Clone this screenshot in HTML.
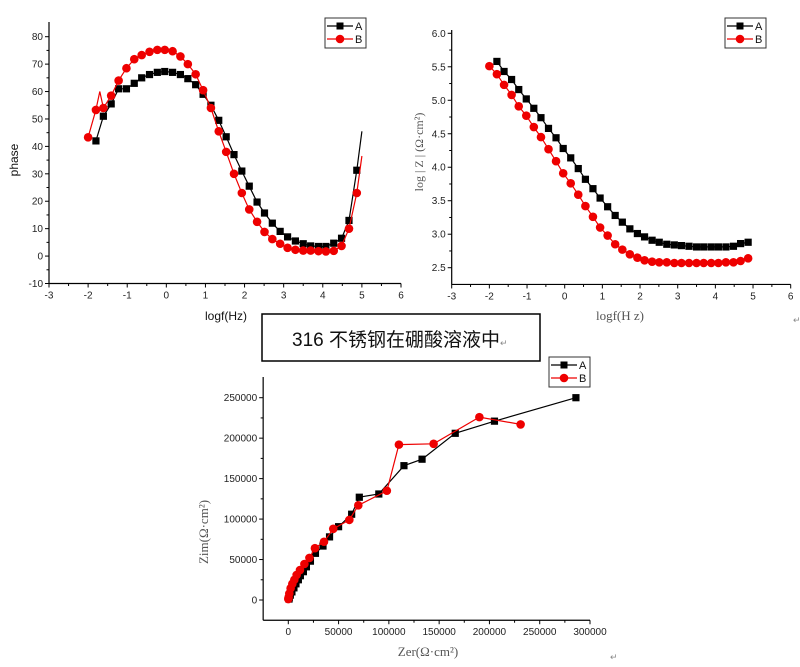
<!DOCTYPE html>
<html><head><meta charset="utf-8">
<style>
html,body{margin:0;padding:0;background:#fff;}
svg{display:block;font-family:"Liberation Sans",sans-serif;}
.tick{font-size:10px;fill:#222;}
</style></head>
<body>
<svg id="root" width="800" height="667" viewBox="0 0 800 667" xmlns="http://www.w3.org/2000/svg">
  <g>
    <rect x="262" y="314" width="278" height="47" fill="#fff" stroke="#000" stroke-width="1.5"/>
    <text x="292" y="346" font-size="19" font-family="'Liberation Sans','Noto Sans CJK SC',sans-serif" fill="#111">316 不锈钢在硼酸溶液中<tspan font-size="9" fill="#888">↵</tspan></text>
  </g>
  <text x="793" y="323" font-size="9" fill="#888">↵</text>
  <text x="610" y="660" font-size="9" fill="#888">↵</text>
</svg>
<script>
// ---------- Chart 1: phase ----------
const phaseXA = [-1.80,-1.61,-1.41,-1.22,-1.02,-0.82,-0.63,-0.43,-0.23,-0.04,0.16,0.36,0.55,0.75,0.94,1.14,1.34,1.53,1.73,1.93,2.12,2.32,2.51,2.71,2.91,3.10,3.30,3.50,3.69,3.89,4.08,4.28,4.48,4.67,4.87,5.00];
const phaseA = [42,51,55.5,61,61,63,65,66.2,67,67.3,67,66.2,64.7,62.5,59,55,49.5,43.5,37,31,25.5,19.7,15.7,12,9,7,5.5,4.5,3.7,3.5,3.5,4.7,6.5,13,31.3,45.5];
const phaseXB = [-2.00,-1.80,-1.70,-1.61,-1.41,-1.22,-1.02,-0.82,-0.63,-0.43,-0.23,-0.04,0.16,0.36,0.55,0.75,0.94,1.14,1.34,1.53,1.73,1.93,2.12,2.32,2.51,2.71,2.91,3.10,3.30,3.50,3.69,3.89,4.08,4.28,4.48,4.67,4.87,5.00];
const phaseB = [43.3,53.3,60,54,58.5,64,68.5,71.8,73.3,74.5,75.2,75.2,74.7,72.8,70,66.3,60.5,54,45.5,38,30,23,17,12.5,8.8,6.2,4.5,3,2.3,2,2,1.8,1.7,1.9,3.7,10,23,36.5];
const phaseNoMarkA = [35];
const phaseNoMarkB = [2,37];
const phaseXTicks = [-3,-2,-1,0,1,2,3,4,5,6];
const phaseYTicks = [-10,0,10,20,30,40,50,60,70,80];

// ---------- Chart 2: log|Z| ----------
const bodeXA = [-1.80,-1.61,-1.41,-1.22,-1.02,-0.82,-0.63,-0.43,-0.23,-0.04,0.16,0.36,0.55,0.75,0.94,1.14,1.34,1.53,1.73,1.93,2.12,2.32,2.51,2.71,2.91,3.10,3.30,3.50,3.69,3.89,4.08,4.28,4.48,4.67,4.87];
const bodeA = [5.58,5.43,5.31,5.16,5.02,4.88,4.74,4.58,4.44,4.28,4.14,3.98,3.82,3.68,3.54,3.41,3.28,3.18,3.08,3.01,2.96,2.91,2.88,2.85,2.84,2.83,2.82,2.81,2.81,2.81,2.81,2.81,2.82,2.86,2.88];
const bodeXB = [-2.00,-1.80,-1.61,-1.41,-1.22,-1.02,-0.82,-0.63,-0.43,-0.23,-0.04,0.16,0.36,0.55,0.75,0.94,1.14,1.34,1.53,1.73,1.93,2.12,2.32,2.51,2.71,2.91,3.10,3.30,3.50,3.69,3.89,4.08,4.28,4.48,4.67,4.87];
const bodeB = [5.51,5.39,5.23,5.08,4.91,4.77,4.60,4.45,4.27,4.09,3.91,3.76,3.59,3.42,3.26,3.10,2.98,2.85,2.77,2.70,2.65,2.61,2.59,2.58,2.58,2.57,2.57,2.57,2.57,2.57,2.57,2.57,2.58,2.58,2.60,2.64];
const bodeXTicks = [-3,-2,-1,0,1,2,3,4,5,6];
const bodeYTicks = [2.5,3.0,3.5,4.0,4.5,5.0,5.5,6.0];

// ---------- Chart 3: Nyquist ----------
const nyqZerA = [286000,205000,166000,133000,115000,90000,70600,63000,50000,41000,34500,27000,22000,18000,15000,12000,10000,7600,5600,3600,2000,1000,700];
const nyqZimA = [250000,221000,206000,174000,166000,131000,127000,106000,90600,78000,66700,57700,48000,41000,35000,30000,25000,20000,15000,10000,6000,3000,1200];
const nyqZerB = [231000,190000,144500,110000,98000,69600,60700,44700,35500,26500,21000,16000,11600,8300,6000,4000,2300,1000,300,0];
const nyqZimB = [217000,226000,193000,192000,135000,117000,99000,88000,72000,64000,52000,44500,37000,31000,25000,20000,14500,8000,3300,1200];
const nyqXTicks = [0,50000,100000,150000,200000,250000,300000];
const nyqYTicks = [0,50000,100000,150000,200000,250000];

const NS = "http://www.w3.org/2000/svg";
const root = document.getElementById('root');
function el(tag, attrs, parent){ const e=document.createElementNS(NS,tag); for(const k in attrs) e.setAttribute(k,attrs[k]); (parent||root).appendChild(e); return e; }

function chart(cfg){
  const g = el('g',{});
  
  
  const sx = v => cfg.x0 + (v - cfg.xmin)/(cfg.xmax-cfg.xmin)*(cfg.x1-cfg.x0);
  const sy = v => cfg.y0 - (v - cfg.ymin)/(cfg.ymax-cfg.ymin)*(cfg.y0-cfg.y1);
  // axes
  const ax = el('path',{d:`M${sx(cfg.axXmin)},${sy(cfg.axYmin)} H${sx(cfg.axXmax)} M${sx(cfg.axXmin)},${sy(cfg.axYmin)} V${cfg.axTop}`,stroke:'#000','stroke-width':1.2,fill:'none'},g);
  
  
  const xt = cfg.xTicks, yt = cfg.yTicks;
  for(let i=0;i<xt.length;i++){
    const x=sx(xt[i]);
    el('line',{x1:x,x2:x,y1:sy(cfg.axYmin),y2:sy(cfg.axYmin)+4,stroke:'#000'},g);
    if(i<xt.length-1){ const xm=sx((xt[i]+xt[i+1])/2); el('line',{x1:xm,x2:xm,y1:sy(cfg.axYmin),y2:sy(cfg.axYmin)+2.5,stroke:'#000'},g); }
    const t=el('text',{x:x,y:sy(cfg.axYmin)+15,'text-anchor':'middle',class:'tick'},g);
    t.textContent = cfg.xfmt(xt[i]);
    
    
  }
  for(let i=0;i<yt.length;i++){
    const y=sy(yt[i]);
    el('line',{x1:sx(cfg.axXmin)-4,x2:sx(cfg.axXmin),y1:y,y2:y,stroke:'#000'},g);
    if(i<yt.length-1){ const ym=sy((yt[i]+yt[i+1])/2); el('line',{x1:sx(cfg.axXmin)-2.5,x2:sx(cfg.axXmin),y1:ym,y2:ym,stroke:'#000'},g); }
    const t=el('text',{x:sx(cfg.axXmin)-6,y:y+3.5,'text-anchor':'end',class:'tick'},g);
    t.textContent = cfg.yfmt(yt[i]);
    
    
  }
  // series
  cfg.series.forEach(s=>{
    const sg = el('g',{},g);
    
    
    const d = s.xs.map((v,i)=>(i?'L':'M')+sx(v).toFixed(1)+','+sy(s.ys[i]).toFixed(1)).join(' ');
    el('path',{d:d,stroke:s.color,'stroke-width':1.2,fill:'none'},sg);
    s.xs.forEach((v,i)=>{
      if(s.skip && s.skip.includes(i)) return;
      const cx=sx(v), cy=sy(s.ys[i]);
      let m;
      if(s.shape==='sq') m=el('rect',{x:cx-3.6,y:cy-3.6,width:7.2,height:7.2,fill:s.color},sg);
      else m=el('circle',{cx:cx,cy:cy,r:4.3,fill:s.color},sg);
      
      
    });
  });
  // legend
  const L = cfg.legend;
  const lg = el('g',{},g);
  
  
  el('rect',{x:L.x,y:L.y,width:41,height:30,fill:'#fff',stroke:'#333','stroke-width':1},lg);
  [['A','#000','sq'],['B','#e00','ci']].forEach((e,i)=>{
    const yy=L.y+8+i*13;
    const eg=el('g',{},lg);
    
    
    el('line',{x1:L.x+2,x2:L.x+28,y1:yy,y2:yy,stroke:e[1],'stroke-width':1.2},eg);
    if(e[2]==='sq') el('rect',{x:L.x+11.5,y:yy-3.5,width:7,height:7,fill:e[1]},eg);
    else el('circle',{cx:L.x+15,cy:yy,r:4.3,fill:e[1]},eg);
    const t=el('text',{x:L.x+30,y:yy+4,'font-size':11,fill:'#111'},eg); t.textContent=e[0];
  });
  // titles
  const xtl=el('text',{x:cfg.xTitle.x,y:cfg.xTitle.y,'text-anchor':'middle','font-size':cfg.xTitle.size,'font-family':cfg.xTitle.font,fill:cfg.xTitle.color},g);
  xtl.textContent=cfg.xTitle.text;
  
  
  const ytl=el('text',{x:0,y:0,'text-anchor':'middle','font-size':cfg.yTitle.size,'font-family':cfg.yTitle.font,fill:cfg.yTitle.color,transform:`translate(${cfg.yTitle.x},${cfg.yTitle.y}) rotate(-90)`},g);
  ytl.textContent=cfg.yTitle.text;
  
  
}

const serif = "'Liberation Serif','Noto Serif CJK SC',serif";
chart({name:'phase-chart',x0:49,x1:401,xmin:-3,xmax:6,y0:283.5,y1:36.7,ymin:-10,ymax:80,
  axXmin:-3,axXmax:6,axYmin:-10,axTop:22,xTicks:phaseXTicks,yTicks:phaseYTicks,
  xfmt:v=>String(v),yfmt:v=>String(v),
  series:[{name:'series-A',xs:phaseXA,ys:phaseA,color:'#000',shape:'sq',skip:phaseNoMarkA},
          {name:'series-B',xs:phaseXB,ys:phaseB,color:'#e00',shape:'ci',skip:phaseNoMarkB}],
  legend:{x:325,y:18},
  xTitle:{x:226,y:320,text:'logf(Hz)',size:12,font:"'Liberation Sans',sans-serif",color:'#111'},
  yTitle:{x:18,y:160,text:'phase',size:12,font:"'Liberation Sans',sans-serif",color:'#111'}});

chart({name:'impedance-modulus-chart',x0:451.7,x1:790.7,xmin:-3,xmax:6,y0:267.7,y1:33.3,ymin:2.5,ymax:6.0,
  axXmin:-3,axXmax:6,axYmin:2.25,axTop:30,xTicks:bodeXTicks,yTicks:bodeYTicks,
  xfmt:v=>String(v),yfmt:v=>v.toFixed(1),
  series:[{name:'series-A',xs:bodeXA,ys:bodeA,color:'#000',shape:'sq'},
          {name:'series-B',xs:bodeXB,ys:bodeB,color:'#e00',shape:'ci'}],
  legend:{x:725,y:18},
  xTitle:{x:620,y:320,text:'logf(H z)',size:13,font:serif,color:'#555'},
  yTitle:{x:423,y:152,text:'log | Z | (Ω·cm²)',size:12,font:serif,color:'#555'}});

chart({name:'nyquist-chart',x0:288.3,x1:590,xmin:0,xmax:300000,y0:600,y1:397.7,ymin:0,ymax:250000,
  axXmin:-25000,axXmax:300000,axYmin:-25000,axTop:377,xTicks:nyqXTicks,yTicks:nyqYTicks,
  xfmt:v=>String(v),yfmt:v=>String(v),
  series:[{name:'series-A',xs:nyqZerA,ys:nyqZimA,color:'#000',shape:'sq'},
          {name:'series-B',xs:nyqZerB,ys:nyqZimB,color:'#e00',shape:'ci'}],
  legend:{x:549,y:357},
  xTitle:{x:428,y:656,text:'Zer(Ω·cm²)',size:13,font:serif,color:'#555'},
  yTitle:{x:208,y:532,text:'Zim(Ω·cm²)',size:13,font:serif,color:'#555'}});
</script>
</body></html>
